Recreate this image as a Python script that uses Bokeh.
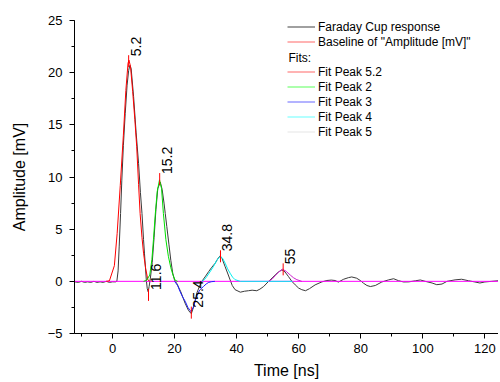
import math
from bokeh.plotting import figure
from bokeh.models import Range1d, SingleIntervalTicker, Legend, LegendItem, Label, ColumnDataSource
from bokeh.core.properties import value
from bokeh.embed import file_html
from bokeh.resources import INLINE

# ---------------- data ----------------
# Faraday Cup response (time in ns, amplitude in mV)
resp_t = [-12.2, -11.0, -10.0, -9.0, -8.0, -7.0, -6.0, -5.0, -4.0, -3.0, -2.0, -1.0, 0.0, 1.0,
          1.4, 1.8, 2.15, 2.6, 3.0, 3.5, 4.1, 4.7, 5.2, 5.6, 6.0, 6.8, 7.6, 8.4, 9.0, 9.5, 10.0,
          10.3, 10.9, 11.2, 11.5, 11.8, 12.2, 12.8, 13.4, 14.0, 14.6, 15.4, 16.0, 16.6, 17.0,
          17.5, 18.2, 18.8, 19.4, 20.0, 20.7, 22.0, 23.4, 24.5, 25.4, 26.2, 27.2, 28.0, 28.8,
          30.0, 31.0, 32.0, 33.1, 34.0, 34.7, 35.3, 36.3, 37.2, 37.9, 38.6, 39.5, 41.2, 42.5,
          43.8, 45.0, 46.5, 47.5, 48.7, 50.3, 51.4, 52.4, 53.5, 54.6, 55.6, 56.7, 57.8, 58.9,
          60.0, 61.0, 62.2, 63.5, 65.3, 67.5, 69.1, 70.5, 71.7, 72.8, 74.5, 76.0, 77.1, 78.7,
          80.0, 80.9, 82.0, 83.1, 84.7, 86.8, 89.0, 90.6, 92.2, 93.8, 95.5, 97.6, 99.2, 100.8,
          103.0, 104.5, 106.2, 107.8, 110.4, 112.5, 114.7, 116.8, 118.4, 120.0, 122.2, 124.4]
resp_v = [-0.05, -0.1, 0.0, -0.1, -0.05, -0.1, 0.0, -0.1, -0.05, -0.1, 0.0, -0.1, -0.05, -0.05,
          0.0, 1.0, 3.3, 6.5, 9.7, 13.0, 16.1, 18.8, 20.2, 20.7, 20.4, 17.7, 14.3, 11.3, 8.5, 6.5, 4.0,
          2.7, 0.1, -0.7, -1.0, -0.5, 0.3, 1.8, 4.2, 6.9, 8.9, 9.5, 8.8, 7.5, 6.5,
          5.25, 3.5, 2.0, 0.8, 0.1, -0.2, -1.0, -2.1, -2.8, -3.1, -2.4, -1.1, -0.5, 0.0,
          0.5, 0.94, 1.35, 1.74, 2.2, 2.44, 2.2, 1.4, 0.7, 0.14, -0.4, -0.8, -1.04, -0.95,
          -0.9, -0.85, -0.9, -0.75, -0.5, 0.0, 0.3, 0.6, 0.9, 1.1, 0.9, 0.46, 0.0, -0.34,
          -0.65, -0.8, -0.9, -0.7, -0.34, -0.05, 0.08, 0.12, 0.08, -0.07, 0.2, 0.35, 0.42, 0.3,
          0.05, -0.18, -0.4, -0.5, -0.4, -0.06, 0.14, 0.25, 0.06, -0.06, -0.05, 0.05, 0.13, 0.0,
          -0.16, -0.32, -0.26, 0.0, 0.14, 0.2, 0.06, -0.06, -0.16, -0.06, 0.0, 0.06]

# Baseline of "Amplitude [mV]"
base_t = [-12.2, 124.4]
base_v = [0.0, 0.0]

# Fit peak 5.2 (red)
fit1_t = [-2.0, -1.0, 0.6, 1.5, 2.5, 3.5, 4.3, 5.0, 5.3, 5.8, 6.5, 7.2, 7.8, 8.4, 8.9, 9.5, 10.0, 10.7, 11.4, 12.0]
fit1_v = [0.0, 0.05, 1.5, 4.6, 9.2, 14.0, 18.3, 20.9, 21.2, 20.6, 18.2, 15.5, 12.9, 9.3, 6.5, 4.2, 2.7, 1.2, 0.14, 0.0]
# Fit peak 2 (green)
fit2_t = [10.0, 11.0, 12.0, 12.7, 13.2, 13.8, 14.4, 15.15, 15.8, 16.4, 17.2, 18.0, 18.8, 19.5, 20.2, 21.0]
fit2_v = [0.0, 0.1, 0.6, 2.1, 4.0, 6.5, 8.6, 9.73, 8.9, 6.5, 4.0, 2.4, 1.3, 0.6, 0.1, 0.0]
# Fit peak 3 (blue)
fit3_t = [20.0, 21.0, 21.8, 22.6, 23.4, 24.3, 25.25, 26.0, 26.6, 27.4, 28.2, 29.3, 30.2, 31.0, 32.0, 33.0]
fit3_v = [0.0, -0.4, -1.0, -1.5, -1.9, -2.5, -2.9, -2.5, -1.9, -1.2, -0.8, -0.5, -0.25, -0.1, -0.03, 0.0]
# Fit peak 4 (cyan)
fit4_t = [28.8, 29.6, 30.4, 31.4, 32.5, 33.6, 34.7, 35.5, 36.3, 37.1, 37.9, 38.7, 39.5, 41.2, 58.0]
fit4_v = [0.0, 0.15, 0.46, 0.9, 1.4, 2.0, 2.4, 2.2, 1.74, 1.2, 0.78, 0.4, 0.16, 0.0, 0.0]
# Fit peak 5 (magenta)
fit5_t = [50.3, 51.4, 52.4, 53.6, 54.8, 56.0, 57.3, 58.3, 59.4, 61.0]
fit5_v = [0.0, 0.2, 0.53, 0.9, 1.16, 0.95, 0.6, 0.35, 0.16, 0.0]

# Peak markers and labels
peak_t = [5.2, 11.6, 15.2, 25.4, 34.8, 55.0]
peak_v = [21.1, -1.3, 9.8, -3.0, 2.4, 1.15]
peak_labels = ["5.2", "11.6", "15.2", "25.4", "34.8", "55"]

legend_top_labels = ["Faraday Cup response", 'Baseline of "Amplitude [mV]"']
legend_fit_labels = ["Fit Peak 5.2", "Fit Peak 2", "Fit Peak 3", "Fit Peak 4", "Fit Peak 5"]

FONT = "Liberation Sans"
NAN = float("nan")

# ---------------- figure ----------------
p = figure(frame_width=424, frame_height=313, output_backend="svg", toolbar_location=None,
           x_range=Range1d(-12.25, 124.4), y_range=Range1d(-5, 25),
           min_border_top=20, min_border_left=74, min_border_right=0, min_border_bottom=0,
           background_fill_color="white", border_fill_color="white")
p.outline_line_color = None
p.grid.visible = False

p.xaxis.ticker = SingleIntervalTicker(interval=20, num_minor_ticks=2)
p.yaxis.ticker = SingleIntervalTicker(interval=5, num_minor_ticks=2)
for ax in (p.xaxis[0], p.yaxis[0]):
    ax.axis_line_color = "black"
    ax.major_tick_line_color = "black"
    ax.minor_tick_line_color = "black"
    ax.major_tick_in = 0
    ax.major_tick_out = 5
    ax.minor_tick_in = 0
    ax.minor_tick_out = 3
    ax.major_label_text_font = FONT
    ax.major_label_text_font_size = "13px"
    ax.major_label_text_color = "black"
    ax.axis_label_text_font = FONT
    ax.axis_label_text_font_size = "16px"
    ax.axis_label_text_font_style = "normal"
    ax.axis_label_text_color = "black"

p.xaxis.axis_label = "Time [ns]"
p.yaxis.axis_label = "Amplitude [mV]"
p.xaxis.major_label_standoff = 5
p.xaxis.axis_label_standoff = 6
p.yaxis.major_label_standoff = 7
p.yaxis.axis_label_standoff = 17

p.line(resp_t, resp_v, line_color="#3a3a3a", line_width=1)
p.line(base_t, base_v, line_color="#ff00ff", line_width=1)
p.line(fit1_t, fit1_v, line_color="#ff0000", line_width=1)
p.line(fit2_t, fit2_v, line_color="#00e000", line_width=1)
p.line(fit3_t, fit3_v, line_color="#2020ff", line_width=1)
p.line(fit4_t, fit4_v, line_color="#00f0f0", line_width=1)
p.line(fit5_t, fit5_v, line_color="#d020d0", line_width=1)

src = ColumnDataSource(dict(x=peak_t, y=peak_v, t=peak_labels))
p.scatter("x", "y", source=src, marker="dash", angle=math.pi / 2, size=12,
          line_color="#ff0000", line_width=1)
p.text("x", "y", text="t", source=src, angle=math.pi / 2, text_align="left",
       text_baseline="top", x_offset=2, y_offset=-5,
       text_font=value(FONT), text_font_size="14px", text_color="black")

# legend (renderers without visible data carry the legend line colours)
leg_cols_top = ["#808080", "#ff9a9a"]
leg_cols_fit = ["#ff9a9a", "#90ff90", "#9a9aff", "#9affff", "#eeeeee"]
top_r = [p.line([NAN], [NAN], line_color=c, line_width=1.5) for c in leg_cols_top]
fit_r = [p.line([NAN], [NAN], line_color=c, line_width=1.5) for c in leg_cols_fit]

def make_legend(labels, rends, loc):
    lg = Legend(items=[LegendItem(label=l, renderers=[r]) for l, r in zip(labels, rends)],
                location=loc, padding=0, spacing=0, margin=0,
                glyph_width=28, glyph_height=15, label_height=15, label_standoff=3,
                label_text_font=FONT, label_text_font_size="12px", label_text_color="black",
                background_fill_alpha=0, border_line_color=None)
    return lg

p.add_layout(make_legend(legend_top_labels, top_r, (213, 284)), "center")
p.add_layout(make_legend(legend_fit_labels, fit_r, (213, 194)), "center")
p.add_layout(Label(x=214, y=276, x_units="screen", y_units="screen", text="Fits:",
                   text_font=FONT, text_font_size="12px", text_baseline="middle",
                   text_color="black"))

open("out.html", "w").write(file_html(p, INLINE))
